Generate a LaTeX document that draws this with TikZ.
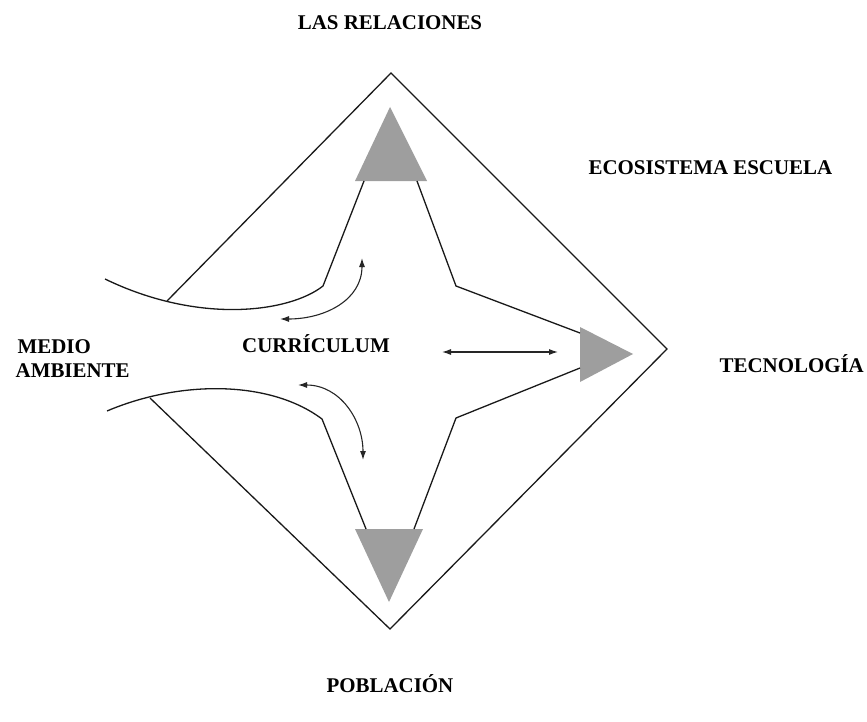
\documentclass[tikz,border=0pt]{standalone}
\usepackage{fontspec}
\setmainfont{Liberation Serif}
\usetikzlibrary{arrows.meta}

\begin{document}
\begin{tikzpicture}[x=1bp, y=-1bp, line width=1.3bp,
    lbl/.style={font=\fontsize{21}{24}\selectfont\bfseries, inner sep=0pt},
    edge/.style={draw=black!90},
    tri/.style={fill=black!38, draw=none},
    flow/.style={draw=black!85, line width=1.1bp, {Latex[length=9bp,width=6bp]}-{Latex[length=9bp,width=6bp]}}]
            \useasboundingbox (0,0) rectangle (867,722);

            % labels
            \node[lbl, anchor=base] (REL) at (390,30) {LAS RELACIONES};
            \node[lbl, anchor=base west] (ECO) at (588,174) {ECOSISTEMA ESCUELA};
            \node[lbl, anchor=base west] (TEC) at (719,372) {TECNOLOGÍA};
            \node[lbl, anchor=north west, align=left] (MED) at (15,339) {\hspace{2bp}MEDIO\\AMBIENTE};
            \node[lbl, anchor=base] (CUR) at (316,352) {CURRÍCULUM};
            \node[lbl, anchor=base] (POB) at (390,692) {POBLACIÓN};

            % diamond
            \coordinate (T) at (391,73);
            \coordinate (R) at (667,349);
            \coordinate (B) at (390,629);
            \coordinate (L1) at (167,301);
            \coordinate (L2) at (150,398);
            \draw[edge] (L1) -- (T) -- (R) -- (B) -- (L2);

            % triangles
            \fill[tri] (390,107) -- (427,181) -- (355,181) -- cycle;
            \fill[tri] (580,327) -- (633,354) -- (580,382) -- cycle;
            \fill[tri] (355,529) -- (423,529) -- (389,602) -- cycle;

            % star
            \draw[edge] (105,279) .. controls (200,325) and (290,312) .. (323,286) -- (364,181);
            \draw[edge] (417,181) -- (456,286) -- (580,333);
            \draw[edge] (580,368) -- (456,418) -- (414,529);
            \draw[edge] (107,411) .. controls (180,380) and (270,380) .. (322,419) -- (366,529);

            % arrows
            \coordinate (A1) at (280,319);
            \coordinate (A2) at (362,258);
            \coordinate (A3) at (298,385);
            \coordinate (A4) at (363,460);
            \coordinate (A5) at (442,352);
            \coordinate (A6) at (558,352);
            \draw[flow] (A1) .. controls (325,319) and (362,300) .. (A2);
            \draw[flow] (A3) .. controls (340,385) and (363,420) .. (A4);
            \draw[flow] (A5) -- (A6);
        \end{tikzpicture}
\end{document}
